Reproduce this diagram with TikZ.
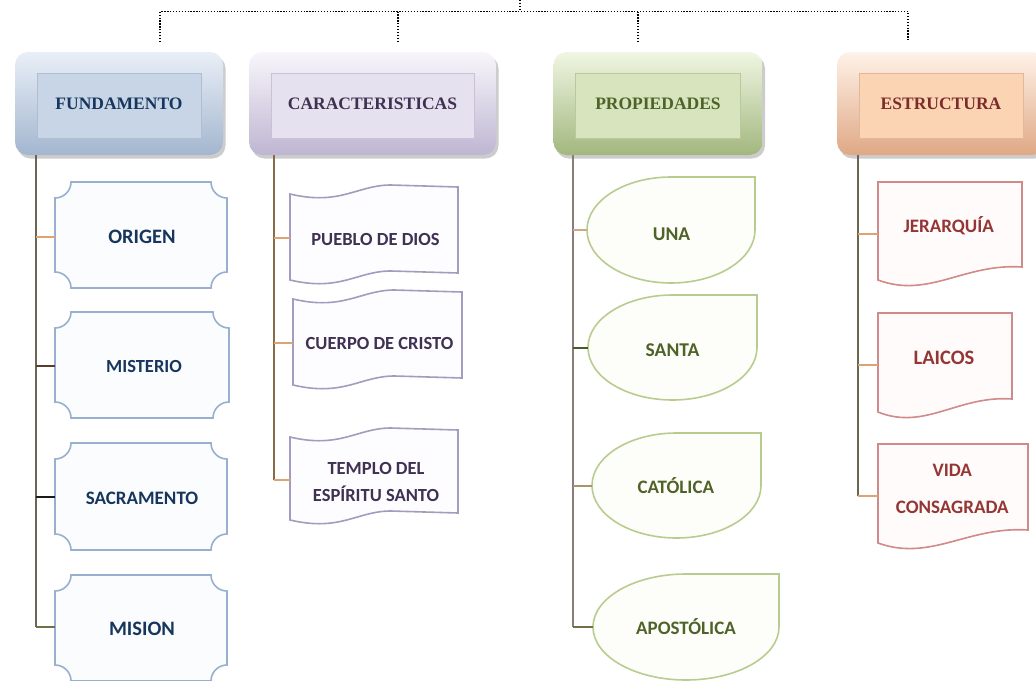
\documentclass[tikz,border=0pt]{standalone}
\usepackage{fontspec}
\setmainfont{Liberation Serif}
\newfontfamily\carl{Carlito}
\usetikzlibrary{shadows}
\definecolor{fTxt}{HTML}{17365D}
\definecolor{fLine}{HTML}{98AFCF}
\definecolor{fFill}{HTML}{FBFCFE}
\definecolor{cTxt}{HTML}{3F3151}
\definecolor{cLine}{HTML}{A49CBF}
\definecolor{cFill}{HTML}{FDFCFE}
\definecolor{pTxt}{HTML}{4F6228}
\definecolor{pLine}{HTML}{B9CC8F}
\definecolor{pFill}{HTML}{FDFEF9}
\definecolor{eTxt}{HTML}{943634}
\definecolor{eHd}{HTML}{7B2C2A}
\definecolor{eLine}{HTML}{D08A8A}
\definecolor{eFill}{HTML}{FFFBFA}
\definecolor{spF}{HTML}{6B6654}
\definecolor{spC}{HTML}{8B6B45}
\definecolor{spP}{HTML}{8C7B7B}
\definecolor{spE}{HTML}{6E6452}
\definecolor{cnOr}{HTML}{DDA472}
\definecolor{cnBr}{HTML}{5C3A2E}
\definecolor{cnBk}{HTML}{1A1A1A}
\definecolor{cnOl}{HTML}{6F6F4A}
\definecolor{cnGr}{HTML}{485A2A}
\definecolor{cnTa}{HTML}{A89468}
\definecolor{cnPk}{HTML}{D4A585}
\definecolor{hF1}{HTML}{E9EFF7}\definecolor{hF2}{HTML}{A3B6CF}\definecolor{hF3}{HTML}{C8D5E6}\definecolor{hF4}{HTML}{AFBFD3}
\definecolor{hC1}{HTML}{F8F6FB}\definecolor{hC2}{HTML}{BEB6D2}\definecolor{hC3}{HTML}{E6E1EF}\definecolor{hC4}{HTML}{C9C1D8}
\definecolor{hP1}{HTML}{F0F6E3}\definecolor{hP2}{HTML}{A2B77E}\definecolor{hP3}{HTML}{D7E4BD}\definecolor{hP4}{HTML}{B9C99C}
\definecolor{hE1}{HTML}{FFF2E8}\definecolor{hE2}{HTML}{DFA885}\definecolor{hE3}{HTML}{FBD4B4}\definecolor{hE4}{HTML}{E3B799}
\newcommand\rtxt[3]{\raisebox{\dimexpr #2pt-0.5\fontcharht\font`\X\relax}[0pt][0pt]{\makebox[0pt]{\hspace*{2\dimexpr #1pt\relax}#3}}}
\newcommand\plaqueshp[5]{\draw[#1] (#2+16,#3) -- (#4-16,#3) arc[start angle=180,end angle=90,radius=16] -- (#4,#5-16) arc[start angle=270,end angle=180,radius=16] -- (#2+16,#5) arc[start angle=0,end angle=-90,radius=16] -- (#2,#3+16) arc[start angle=90,end angle=0,radius=16] -- cycle;}
\newcommand\tapeshp[5]{\pgfmathsetmacro\tW{#4-#2}\pgfmathsetmacro\tO{#5-#3-17}%
\draw[#1] (#2,#3+9) .. controls (#2+.3*\tW,#3+21) and (#2+.4*\tW,#3) .. (#2+.6*\tW,#3) -- (#4,#3+2) -- (#4,#3+\tO+2) -- (#2+.6*\tW,#3+\tO) .. controls (#2+.4*\tW,#3+\tO) and (#2+.3*\tW,#3+\tO+21) .. (#2,#3+\tO+9) -- cycle;}
\newcommand\dropshp[5]{\pgfmathsetmacro\dcy{(#3+#5)/2}\pgfmathsetmacro\drx{(#4-#2)/2}\pgfmathsetmacro\dry{(#5-#3)/2}%
\draw[#1] (#4,#3) -- (#4,\dcy) arc[start angle=0,end angle=270,x radius=\drx,y radius=\dry] -- cycle;}
\newcommand\docshp[5]{\pgfmathsetmacro\dW{#4-#2}%
\draw[#1] (#2,#3) -- (#4,#3) -- (#4,#5-18) .. controls (#2+.6*\dW,#5-22) and (#2+.35*\dW,#5+14) .. (#2,#5-5) -- cycle;}
\begin{document}
\begin{tikzpicture}[x=1pt,y=-1pt,
 dotline/.style={line width=1.3pt, dash pattern=on 1.3pt off 1.6pt},
 hdr/.style n args={6}{rounded corners=13pt, minimum width=#1, minimum height=103pt, inner sep=0pt,
   top color=#2, bottom color=#3, text=#6, font=\fontsize{17.5}{20}\selectfont\bfseries,
   drop shadow={opacity=0.4, shadow xshift=2.5pt, shadow yshift=-3.5pt},
   path picture={\draw[sharp corners, fill=#4, draw=#5, line width=0.8pt] ([shift={(22pt,-21pt)}]path picture bounding box.north west) rectangle ([shift={(-22pt,17pt)}]path picture bounding box.south east);}},
 spine/.style={line width=2.2pt, draw=#1},
 cnx/.style={line width=2pt, draw=#1},
 ftext/.style n args={3}{text=#1, font=\carl\bfseries\fontsize{#2}{#3}\selectfont, inner sep=0pt},
 plq/.style={draw=fLine, fill=fFill, line width=1.6pt},
 tp/.style={draw=cLine, fill=cFill, line width=1.6pt},
 drp/.style={draw=pLine, fill=pFill, line width=1.6pt},
 dcm/.style={draw=eLine, fill=eFill, line width=1.6pt}]
\useasboundingbox (0,0) rectangle (1036,680);
\clip (0,0) rectangle (1036,680);
% top dotted tree
\coordinate (top) at (520,0);
\coordinate (bar) at (520,11.5);
\coordinate (tF) at (160,42);
\coordinate (tC) at (398,42);
\coordinate (tP) at (638,42);
\coordinate (tE) at (908,42);
\draw[dotline] (top) -- (bar);
\draw[dotline] (tF) -- (tF |- bar) -- (tE |- bar) -- (tE);
\draw[dotline] (tC |- bar) -- (tC);
\draw[dotline] (tP |- bar) -- (tP);
% headers
\node[hdr={208pt}{hF1}{hF2}{hF3}{hF4}{fTxt}] (hF) at (119,103.5) {FUNDAMENTO};
\node[hdr={247pt}{hC1}{hC2}{hC3}{hC4}{cTxt}] (hC) at (372.5,103.5) {CARACTERISTICAS};
\node[hdr={209pt}{hP1}{hP2}{hP3}{hP4}{pTxt}] (hP) at (658,103.5) {PROPIEDADES};
\node[hdr={208pt}{hE1}{hE2}{hE3}{hE4}{eHd}] (hE) at (941,103.5) {ESTRUCTURA};
% spine coordinates
\coordinate (sF) at (36,155);
\coordinate (sC) at (274,155);
\coordinate (sP) at (573,155);
\coordinate (sE) at (858,155);
% child shapes
\plaqueshp{plq}{55}{182}{227}{288}
\plaqueshp{plq}{55}{312}{229}{418}
\plaqueshp{plq}{55}{443}{227}{550}
\plaqueshp{plq}{55}{575}{227}{681}
\tapeshp{tp}{290}{185}{458}{288}
\tapeshp{tp}{293}{290}{462}{393}
\tapeshp{tp}{290}{428}{458}{528}
\dropshp{drp}{587}{177}{755}{283}
\dropshp{drp}{588}{295}{757}{400}
\dropshp{drp}{592}{433}{761}{538}
\dropshp{drp}{593}{574}{779}{680}
\docshp{dcm}{878}{182}{1022}{285}
\docshp{dcm}{878}{313}{1012}{417}
\docshp{dcm}{878}{444}{1028}{548}
% text nodes
\node[ftext={fTxt}{20.5}{24}, minimum width=172pt] (origen) at (141,237) {\rtxt{1}{0}{ORIGEN}};
\node[ftext={fTxt}{18.5}{22}, minimum width=174pt] (misterio) at (142,366) {\rtxt{2}{0}{MISTERIO}};
\node[ftext={fTxt}{19}{22}, minimum width=172pt] (sacramento) at (141,497) {\rtxt{1}{-1}{SACRAMENTO}};
\node[ftext={fTxt}{20.5}{24}, minimum width=172pt] (mision) at (141,627) {\rtxt{1}{-2}{MISION}};
\node[ftext={cTxt}{18.5}{22}, minimum width=168pt] (pueblo) at (374,238) {\rtxt{1.5}{-1.5}{PUEBLO DE DIOS}};
\node[ftext={cTxt}{18.5}{22}, minimum width=169pt] (cuerpo) at (377.5,343) {\rtxt{2}{0}{CUERPO DE CRISTO}};
\node[ftext={cTxt}{18.5}{27.5}, minimum width=168pt] (templo) at (374,480) {\rtxt{2}{-15.8}{\begin{tabular}[b]{@{}c@{}}TEMPLO DEL\\ESPÍRITU SANTO\end{tabular}}};
\node[ftext={pTxt}{19.5}{23}, minimum width=168pt] (una) at (671,230) {\rtxt{0.5}{-4}{UNA}};
\node[ftext={pTxt}{19.5}{23}, minimum width=169pt] (santa) at (672.5,347.5) {\rtxt{0}{-2.8}{SANTA}};
\node[ftext={pTxt}{19}{23}, minimum width=169pt] (catolica) at (676.5,485.5) {\rtxt{-0.7}{-2.3}{CATÓLICA}};
\node[ftext={pTxt}{19}{23}, minimum width=186pt] (apostolica) at (686,627) {\rtxt{0}{-1.8}{APOSTÓLICA}};
\node[ftext={eTxt}{19}{23}, minimum width=144pt] (jer) at (950,233.5) {\rtxt{-1.2}{7.3}{JERARQUÍA}};
\node[ftext={eTxt}{20.5}{24}, minimum width=134pt] (laicos) at (945,365) {\rtxt{-1}{7}{LAICOS}};
\node[ftext={eTxt}{19}{37}, minimum width=150pt] (vida) at (953,496) {\rtxt{-0.8}{-11.5}{\begin{tabular}[b]{@{}c@{}}VIDA\\CONSAGRADA\end{tabular}}};
% spines
\draw[spine=spF] (sF) -- (mision.west -| sF);
\draw[spine=spC] (sC) -- (templo.west -| sC);
\draw[spine=spP] (sP) -- (apostolica.west -| sP);
\draw[spine=spE] (sE) -- (vida.west -| sE);
% connectors
\draw[cnx=cnOr] (origen.west -| sF) -- (origen.west);
\draw[cnx=cnBr] (misterio.west -| sF) -- (misterio.west);
\draw[cnx=cnBk] (sacramento.west -| sF) -- (sacramento.west);
\draw[cnx=cnOl] (mision.west -| sF) -- (mision.west);
\draw[cnx=cnOr] (pueblo.west -| sC) -- (pueblo.west);
\draw[cnx=cnOr] (cuerpo.west -| sC) -- (cuerpo.west);
\draw[cnx=cnOr] (templo.west -| sC) -- (templo.west);
\draw[cnx=cnPk] (una.west -| sP) -- (una.west);
\draw[cnx=cnGr] (santa.west -| sP) -- (santa.west);
\draw[cnx=cnTa] (catolica.west -| sP) -- (catolica.west);
\draw[cnx=cnOl] (apostolica.west -| sP) -- (apostolica.west);
\draw[cnx=cnOr] (jer.west -| sE) -- (jer.west);
\draw[cnx=cnOr] (laicos.west -| sE) -- (laicos.west);
\draw[cnx=cnOr] (vida.west -| sE) -- (vida.west);
\end{tikzpicture}
\end{document}
